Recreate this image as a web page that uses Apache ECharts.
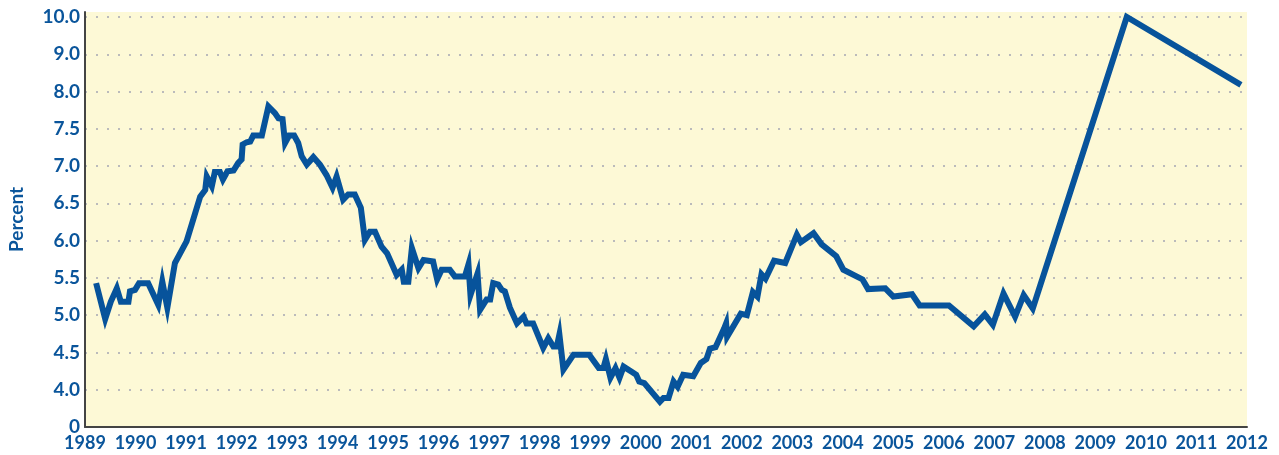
<body style="margin:0">
    <div id='main' style="width:1279px;height:455px;"></div>
</body>

<script src="https://cdn.jsdelivr.net/npm/echarts@6/dist/echarts.min.js"></script>
<script>

// broken y axis: 0 | 4.0 ... 8.0 in 0.5 steps | 9.0 10.0 in 1.0 steps
var yTickLabels = ['0', '4.0', '4.5', '5.0', '5.5', '6.0', '6.5', '7.0', '7.5', '8.0', '9.0', '10.0'];

var years = [
  1989.22, 1989.40, 1989.51, 1989.63, 1989.71, 1989.86, 1989.89, 1989.99, 1990.07, 1990.25,
  1990.45, 1990.53, 1990.63, 1990.78, 1991.01, 1991.14, 1991.28, 1991.38, 1991.41, 1991.51,
  1991.57, 1991.67, 1991.73, 1991.82, 1991.94, 1992.03, 1992.10, 1992.12, 1992.20, 1992.27,
  1992.33, 1992.50, 1992.63, 1992.76, 1992.83, 1992.91, 1992.96, 1993.04, 1993.14, 1993.22,
  1993.29, 1993.39, 1993.52, 1993.65, 1993.78, 1993.90, 1993.98, 1994.11, 1994.21, 1994.34,
  1994.46, 1994.54, 1994.64, 1994.74, 1994.87, 1994.98, 1995.17, 1995.27, 1995.31, 1995.40,
  1995.47, 1995.60, 1995.70, 1995.89, 1995.97, 1996.06, 1996.22, 1996.32, 1996.52, 1996.59,
  1996.63, 1996.77, 1996.82, 1996.95, 1997.02, 1997.08, 1997.18, 1997.25, 1997.31, 1997.41,
  1997.55, 1997.68, 1997.74, 1997.87, 1998.07, 1998.17, 1998.27, 1998.34, 1998.39, 1998.47,
  1998.67, 1998.98, 1999.17, 1999.26, 1999.31, 1999.40, 1999.50, 1999.58, 1999.66, 1999.82,
  1999.91, 1999.97, 2000.07, 2000.38, 2000.45, 2000.55, 2000.65, 2000.73, 2000.84, 2001.04,
  2001.19, 2001.30, 2001.37, 2001.48, 2001.65, 2001.69, 2001.71, 2001.98, 2002.10, 2002.22,
  2002.31, 2002.39, 2002.47, 2002.64, 2002.86, 2003.09, 2003.17, 2003.42, 2003.58, 2003.87,
  2004.01, 2004.39, 2004.50, 2004.84, 2005.00, 2005.37, 2005.52, 2006.10, 2006.59, 2006.81,
  2006.97, 2007.18, 2007.41, 2007.58, 2007.76, 2009.62, 2011.88
];

var rates = [
  5.43, 4.95, 5.18, 5.36, 5.18, 5.18, 5.32, 5.34, 5.43, 5.43,
  5.14, 5.45, 5.10, 5.70, 5.99, 6.28, 6.59, 6.68, 6.86, 6.73,
  6.92, 6.92, 6.82, 6.93, 6.94, 7.04, 7.09, 7.29, 7.32, 7.33,
  7.41, 7.41, 7.80, 7.71, 7.64, 7.63, 7.31, 7.41, 7.41, 7.31,
  7.13, 7.02, 7.12, 7.02, 6.88, 6.71, 6.86, 6.55, 6.62, 6.62,
  6.44, 6.01, 6.12, 6.12, 5.92, 5.83, 5.54, 5.61, 5.45, 5.45,
  5.90, 5.63, 5.74, 5.72, 5.48, 5.61, 5.61, 5.52, 5.52, 5.68,
  5.27, 5.56, 5.07, 5.21, 5.21, 5.43, 5.41, 5.34, 5.32, 5.10,
  4.89, 4.98, 4.89, 4.89, 4.56, 4.69, 4.58, 4.58, 4.74, 4.27,
  4.47, 4.47, 4.29, 4.29, 4.41, 4.16, 4.29, 4.16, 4.31, 4.24,
  4.20, 4.11, 4.09, 3.84, 3.89, 3.89, 4.11, 4.04, 4.20, 4.18,
  4.36, 4.41, 4.55, 4.57, 4.82, 4.89, 4.71, 5.02, 5.00, 5.31,
  5.25, 5.55, 5.49, 5.73, 5.70, 6.08, 5.98, 6.10, 5.95, 5.79,
  5.61, 5.48, 5.35, 5.36, 5.25, 5.28, 5.13, 5.13, 4.85, 5.01,
  4.87, 5.29, 4.98, 5.27, 5.09, 10.0, 8.18
];

// value -> position on the broken axis (one step per tick label)
function toPos(v) {
  if (v >= 8) return 9 + (v - 8);
  return 1 + (v - 4) * 2;
}

var chartDom = document.getElementById('main');
var myChart = echarts.init(chartDom);
var option;

var lineData = years.map(function (y, i) { return [y, toPos(rates[i])]; });

var blue = '#0a559b';
var font = 'Lato, "Open Sans", sans-serif';

option = {
  animation: false,
  grid: {
    left: 85,
    right: 32,
    top: 12,
    bottom: 28,
    containLabel: false,
    outerBoundsMode: 'none',
    show: true,
    backgroundColor: '#fdf9d6',
    borderWidth: 0
  },
  xAxis: {
    type: 'value',
    min: 1989,
    max: 2012,
    interval: 1,
    axisLine: { show: true, lineStyle: { color: '#444', width: 2 } },
    axisTick: { show: false },
    splitLine: { show: false },
    axisLabel: {
      color: blue,
      fontFamily: font,
      fontWeight: 'bold',
      fontSize: 18,
      lineHeight: 18,
      margin: 7,
      formatter: function (v) { return String(v); }
    }
  },
  yAxis: {
    type: 'value',
    min: 0,
    max: 11.134,
    interval: 1,
    name: 'Percent',
    nameLocation: 'middle',
    nameGap: 58,
    nameTextStyle: {
      color: blue,
      fontFamily: font,
      fontWeight: 'bold',
      fontSize: 19,
      lineHeight: 19
    },
    axisLine: { show: true, lineStyle: { color: '#444', width: 2 } },
    axisTick: { show: false },
    splitLine: {
      show: true,
      showMinLine: false,
      showMaxLine: false,
      lineStyle: { color: '#bbbbbb', width: 2, type: [2, 9] }
    },
    axisLabel: {
      color: blue,
      fontFamily: font,
      fontWeight: 'bold',
      fontSize: 19,
      margin: 5,
      showMaxLabel: false,
      formatter: function (v) {
        if (Math.abs(v - Math.round(v)) > 0.001) return '';
        return yTickLabels[Math.round(v)] || '';
      }
    }
  },
  series: [
    {
      type: 'line',
      showSymbol: false,
      silent: true,
      lineStyle: { color: '#07539b', width: 6, join: 'miter' },
      data: lineData
    }
  ]
};

option && myChart.setOption(option);

</script>
